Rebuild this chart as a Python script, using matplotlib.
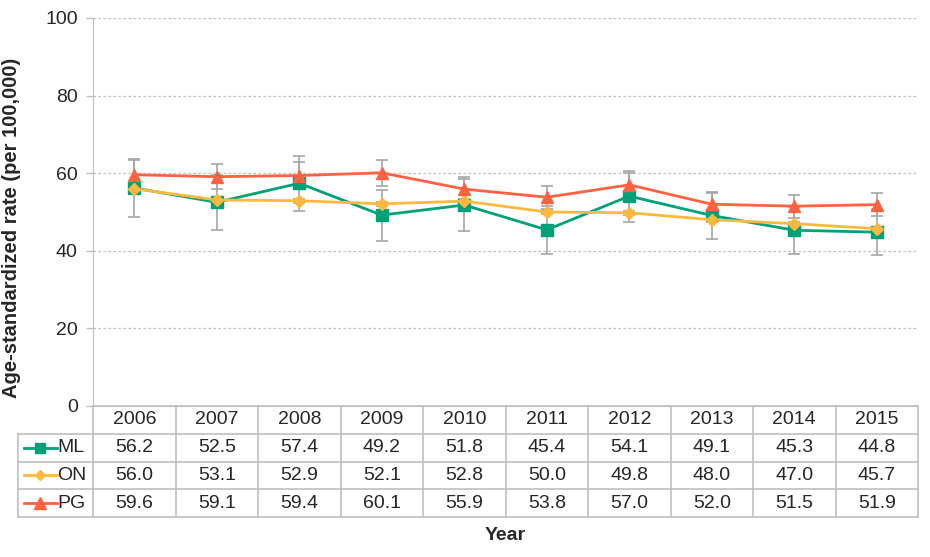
import numpy as np
import matplotlib
matplotlib.use('Agg')
import matplotlib.pyplot as plt

plt.rcParams['font.family'] = ['Liberation Sans', 'DejaVu Sans']

# ---- data ----
years = ['2006', '2007', '2008', '2009', '2010', '2011', '2012', '2013', '2014', '2015']
series_names = ['ML', 'ON', 'PG']
ml = [56.2, 52.5, 57.4, 49.2, 51.8, 45.4, 54.1, 49.1, 45.3, 44.8]
on = [56.0, 53.1, 52.9, 52.1, 52.8, 50.0, 49.8, 48.0, 47.0, 45.7]
pg = [59.6, 59.1, 59.4, 60.1, 55.9, 53.8, 57.0, 52.0, 51.5, 51.9]
# 95% confidence limits
ml_lo = [48.7, 45.4, 50.3, 42.6, 45.1, 39.2, 47.5, 43.0, 39.2, 38.9]
ml_hi = [63.7, 59.6, 64.5, 55.7, 58.5, 51.6, 60.6, 55.2, 51.4, 50.7]
on_lo = [55.5, 52.6, 52.4, 51.6, 52.3, 49.5, 49.3, 47.5, 46.5, 45.2]
on_hi = [56.5, 53.6, 53.4, 52.6, 53.3, 50.5, 50.3, 48.5, 47.5, 46.2]
pg_lo = [56.0, 55.8, 56.0, 56.8, 52.5, 50.8, 53.8, 48.8, 48.5, 48.9]
pg_hi = [63.3, 62.4, 62.9, 63.4, 59.0, 56.8, 60.0, 54.9, 54.4, 54.8]

colors = ['#00A079', '#FDB840', '#FF6240']
markers = ['s', 'D', '^']
msizes = [8, 6, 9]
err_color = '#A6A6A6'
grid_color = '#BFBFBF'
text_color = '#262626'
fs = 14

W, H = 930, 557
fig = plt.figure(figsize=(W / 100, H / 100), dpi=100)

left, right, top, bottom = 93, 918, 18, 406
ax = fig.add_axes([left / W, 1 - bottom / H, (right - left) / W, (bottom - top) / H])

x = np.arange(len(years))
data = [ml, on, pg]
lows = [ml_lo, on_lo, pg_lo]
highs = [ml_hi, on_hi, pg_hi]

for vals, lo, hi in zip(data, lows, highs):
    v = np.array(vals)
    yerr = [v - np.array(lo), np.array(hi) - v]
    ax.errorbar(x, v, yerr=yerr, fmt='none', ecolor=err_color, elinewidth=1.2,
                capsize=4, capthick=1.2, zorder=2)

for i, vals in enumerate(data):
    ax.plot(x, vals, color=colors[i], marker=markers[i], markersize=msizes[i],
            linewidth=2, zorder=3 + i)

ax.set_xlim(-0.5, len(years) - 0.5)
ax.set_ylim(0, 100)
ax.set_yticks(range(0, 101, 20))
ax.set_xticks([])
ax.tick_params(axis='y', labelsize=fs, labelcolor=text_color, color=grid_color,
               length=5, width=1, pad=6)
ax.yaxis.grid(True, linestyle=(0, (2, 2)), color=grid_color, linewidth=0.9)
ax.set_axisbelow(True)
for s in ['top', 'right']:
    ax.spines[s].set_visible(False)
ax.spines['left'].set_color(grid_color)
ax.spines['bottom'].set_color(grid_color)
ax.set_ylabel('Age-standardized rate (per 100,000)', fontsize=14.5, fontweight='bold',
              color=text_color, labelpad=10)
ax.yaxis.set_label_coords(-0.087, 0.46)

# ---- data table below the axes ----
tbl_bottom = 517
tax = fig.add_axes([left / W, 1 - tbl_bottom / H, (right - left) / W, (tbl_bottom - bottom) / H])
tax.set_xlim(-0.5, len(years) - 0.5)
tax.set_ylim(4, 0)
tax.axis('off')

lc = grid_color
lw = 1.2
leg_left = -0.5 - (left - 18) / 82.5
# horizontal lines
tax.plot([-0.5, len(years) - 0.5], [0, 0], color=lc, lw=lw, clip_on=False)
for r in [1, 2, 3, 4]:
    tax.plot([leg_left, len(years) - 0.5], [r, r], color=lc, lw=lw, clip_on=False)
# vertical lines
for c in range(len(years) + 1):
    tax.plot([c - 0.5, c - 0.5], [0, 4], color=lc, lw=lw, clip_on=False)
tax.plot([leg_left, leg_left], [1, 4], color=lc, lw=lw, clip_on=False)

for j, yr in enumerate(years):
    tax.text(j, 0.5, yr, ha='center', va='center', fontsize=fs, color=text_color)

for i, vals in enumerate(data):
    r = i + 1.5
    for j, v in enumerate(vals):
        tax.text(j, r, f'{v:.1f}', ha='center', va='center', fontsize=fs, color=text_color)
    x0 = leg_left + 0.07
    x1 = leg_left + 0.47
    tax.plot([x0, x1], [r, r], color=colors[i], lw=2, clip_on=False)
    tax.plot([(x0 + x1) / 2], [r], color=colors[i], marker=markers[i],
             markersize=msizes[i] - 1, clip_on=False)
    tax.text(x1 + 0.01, r, series_names[i], ha='left', va='center', fontsize=fs,
             color=text_color)

fig.text((left + right) / 2 / W, 1 - 535 / H, 'Year', ha='center', va='center',
         fontsize=fs, fontweight='bold', color=text_color)

fig.savefig('out.png', dpi=100)
